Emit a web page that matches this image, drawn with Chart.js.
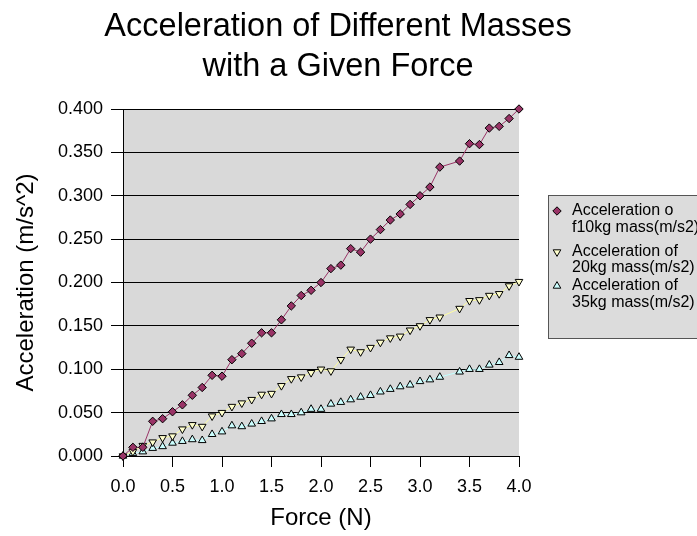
<!DOCTYPE html>
<html lang="en">
<head>
<meta charset="UTF-8">
<title>Acceleration of Different Masses</title>
<script src="https://cdn.jsdelivr.net/npm/chart.js"></script>
<style>
  html, body { margin: 0; padding: 0; background: #fff; }
  #wrap { width: 697px; height: 536px; }
</style>
</head>
<body>
<div id="wrap"><canvas id="acc" width="697" height="536"></canvas></div>
<script>
// force in N (3.3 N was not measured)
const force = [0.0, 0.1, 0.2, 0.3, 0.4, 0.5, 0.6, 0.7, 0.8, 0.9, 1.0, 1.1, 1.2, 1.3, 1.4, 1.5, 1.6, 1.7, 1.8, 1.9,
               2.0, 2.1, 2.2, 2.3, 2.4, 2.5, 2.6, 2.7, 2.8, 2.9, 3.0, 3.1, 3.2, 3.4, 3.5, 3.6, 3.7, 3.8, 3.9, 4.0];
const acc10 = [0.000, 0.010, 0.010, 0.040, 0.043, 0.051, 0.059, 0.070, 0.079, 0.093, 0.092, 0.111, 0.118, 0.130, 0.142, 0.142, 0.157, 0.173, 0.185, 0.191,
               0.200, 0.216, 0.220, 0.239, 0.235, 0.250, 0.261, 0.272, 0.279, 0.290, 0.300, 0.310, 0.333, 0.340, 0.360, 0.359, 0.378, 0.380, 0.389, 0.400];
const acc20 = [0.000, 0.005, 0.012, 0.016, 0.021, 0.023, 0.031, 0.036, 0.034, 0.046, 0.050, 0.057, 0.061, 0.065, 0.071, 0.072, 0.081, 0.089, 0.091, 0.096,
               0.100, 0.098, 0.111, 0.123, 0.120, 0.125, 0.131, 0.136, 0.138, 0.145, 0.150, 0.157, 0.160, 0.170, 0.179, 0.180, 0.185, 0.187, 0.196, 0.201];
const acc35 = [0.000, 0.003, 0.005, 0.009, 0.011, 0.015, 0.017, 0.019, 0.018, 0.025, 0.028, 0.035, 0.034, 0.037, 0.040, 0.043, 0.048, 0.048, 0.050, 0.054,
               0.054, 0.060, 0.062, 0.065, 0.068, 0.070, 0.074, 0.077, 0.080, 0.082, 0.086, 0.088, 0.091, 0.097, 0.100, 0.100, 0.105, 0.108, 0.116, 0.114];

const seriesLabels = [
  ['Acceleration o', 'f10kg mass(m/s2)'],
  ['Acceleration of', '20kg mass(m/s2)'],
  ['Acceleration of', '35kg mass(m/s2)']
];
const titleLines = ['Acceleration of Different Masses', 'with a Given Force'];
const xTitle = 'Force (N)';
const yTitle = 'Acceleration (m/s^2)';

const FONT = "'Liberation Sans', Arial, sans-serif";

function pts(ys) {
  return force.map((f, i) => ({ x: f, y: ys[i] }));
}

// grey plot area
const plotBg = {
  id: 'plotBg',
  beforeDraw(chart) {
    const a = chart.chartArea, ctx = chart.ctx;
    ctx.save();
    ctx.fillStyle = '#d9d9d9';
    ctx.fillRect(a.left, a.top, a.right - a.left, a.bottom - a.top);
    ctx.restore();
  }
};

// title + legend box, drawn by hand so they sit where the original had them
const extras = {
  id: 'extras',
  afterDraw(chart) {
    const ctx = chart.ctx;
    ctx.save();
    ctx.fillStyle = '#000';
    ctx.textAlign = 'center';
    ctx.textBaseline = 'alphabetic';
    ctx.font = '32.5px ' + FONT;
    ctx.fillText(titleLines[0], 338, 36);
    ctx.fillText(titleLines[1], 338, 76);

    // legend
    ctx.fillStyle = '#dcdcdc';
    ctx.fillRect(548.5, 195.5, 200, 143);
    ctx.strokeStyle = '#555';
    ctx.lineWidth = 1;
    ctx.strokeRect(548.5, 195.5, 200, 143);

    const rows = [[211, 228], [252, 268], [286, 303]];
    chart.data.datasets.forEach((ds, i) => {
      ctx.fillStyle = ds.pointBackgroundColor;
      ctx.strokeStyle = ds.pointBorderColor;
      ctx.lineWidth = 1;
      Chart.helpers.drawPoint(ctx, {
        pointStyle: ds.pointStyle,
        rotation: ds.pointRotation || 0,
        radius: ds.pointRadius,
        borderWidth: 1
      }, 557, rows[i][0]);
      ctx.fillStyle = '#000';
      ctx.textAlign = 'left';
      ctx.textBaseline = 'middle';
      ctx.font = '16px ' + FONT;
      ctx.fillText(seriesLabels[i][0], 572, rows[i][0]);
      ctx.fillText(seriesLabels[i][1], 572, rows[i][1]);
    });
    ctx.restore();
  }
};

new Chart(document.getElementById('acc'), {
  type: 'scatter',
  data: {
    datasets: [{
      label: seriesLabels[0].join(''),
      data: pts(acc10),
      showLine: true,
      borderColor: '#993366',
      borderWidth: 1,
      pointStyle: 'rectRot',
      pointRadius: 4.2,
      pointBackgroundColor: '#993366',
      pointBorderColor: '#000',
      pointBorderWidth: 1,
      clip: false,
      order: 1
    }, {
      label: seriesLabels[1].join(' '),
      data: pts(acc20),
      showLine: true,
      borderColor: '#ffffa0',
      borderWidth: 1,
      pointStyle: 'triangle',
      pointRotation: 180,
      pointRadius: 4.4,
      pointBackgroundColor: '#ffffcc',
      pointBorderColor: '#000',
      pointBorderWidth: 1,
      clip: false,
      order: 2
    }, {
      label: seriesLabels[2].join(' '),
      data: pts(acc35),
      showLine: true,
      borderColor: '#c0ffff',
      borderWidth: 1,
      pointStyle: 'triangle',
      pointRadius: 4.4,
      pointBackgroundColor: '#ccffff',
      pointBorderColor: '#000',
      pointBorderWidth: 1,
      clip: false,
      order: 3
    }]
  },
  options: {
    responsive: false,
    animation: false,
    layout: { padding: { top: 109, right: 178, bottom: 0, left: 0 } },
    plugins: {
      legend: { display: false },
      title: { display: false },
      tooltip: { enabled: false }
    },
    scales: {
      x: {
        type: 'linear',
        min: 0,
        max: 4,
        afterFit(scale) { scale.height = 80; },
        ticks: {
          stepSize: 0.5,
          color: '#000',
          font: { family: FONT, size: 18 },
          padding: 9,
          maxRotation: 0,
          callback: v => v.toFixed(1)
        },
        grid: { display: true, drawOnChartArea: false, drawTicks: true, tickLength: 11, color: '#000' },
        border: { display: true, color: '#000', width: 1 },
        title: {
          display: true,
          text: xTitle,
          color: '#000',
          font: { family: FONT, size: 24, lineHeight: 1.2 },
          padding: { top: 0, bottom: 3 }
        }
      },
      y: {
        type: 'linear',
        min: 0,
        max: 0.4,
        afterFit(scale) { scale.width = 123; },
        ticks: {
          stepSize: 0.05,
          color: '#000',
          font: { family: FONT, size: 18 },
          padding: 8,
          callback: v => v.toFixed(3)
        },
        grid: { color: '#000', drawTicks: true, tickLength: 12 },
        border: { display: true, color: '#000', width: 1 },
        title: {
          display: true,
          text: yTitle,
          color: '#000',
          font: { family: FONT, size: 24, lineHeight: 1.2 },
          padding: { top: 12, bottom: 0 }
        }
      }
    }
  },
  plugins: [plotBg, extras]
});
</script>
</body>
</html>
